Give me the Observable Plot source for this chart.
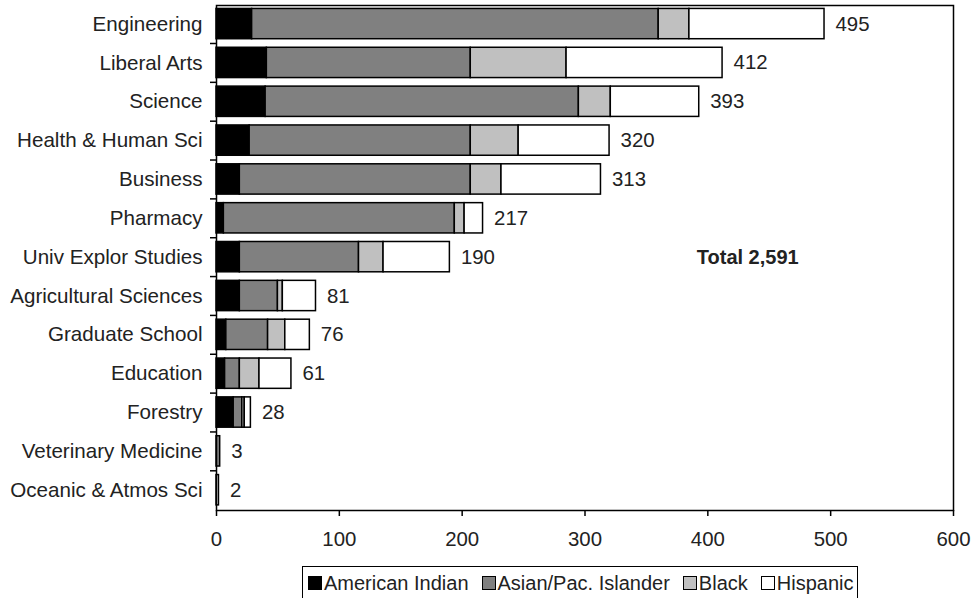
<!DOCTYPE html>
<html>
<head>
<meta charset="utf-8">
<script src="https://cdn.jsdelivr.net/npm/d3@7"></script>
<script src="https://cdn.jsdelivr.net/npm/@observablehq/plot@0.6"></script>
<style>
  html, body { margin: 0; padding: 0; background: #fff; }
  body { width: 972px; height: 598px; overflow: hidden; font-family: "Liberation Sans", Arial, sans-serif; }
  #legend {
    position: absolute; left: 302px; top: 566px;
    border: 1.5px solid #000; border-bottom: none;
    padding: 6px 4px 12px 5px;
    display: flex; align-items: center; gap: 13px;
    font-size: 20px; color: #222; line-height: 20px; white-space: nowrap;
  }
  #legend .item { display: flex; align-items: center; gap: 2px; }
  #legend .sw { width: 12px; height: 12px; border: 1px solid #000; display: inline-block; }
</style>
</head>
<body>
<div id="chart"></div>
<div id="legend"></div>
<script>
const categories = [
  "Engineering", "Liberal Arts", "Science", "Health & Human Sci", "Business",
  "Pharmacy", "Univ Explor Studies", "Agricultural Sciences", "Graduate School",
  "Education", "Forestry", "Veterinary Medicine", "Oceanic & Atmos Sci"
];
const races = ["American Indian", "Asian/Pac. Islander", "Black", "Hispanic"];
const americanIndian = [29, 41, 40, 27, 19, 6, 19, 19, 8, 7, 14, 0, 0];
const asianPacIslander = [331, 166, 255, 180, 188, 188, 97, 31, 34, 12, 7, 3, 0];
const black = [25, 78, 26, 39, 25, 8, 20, 4, 14, 16, 2, 0, 0];
const hispanic = [110, 127, 72, 74, 81, 15, 54, 27, 20, 26, 5, 0, 2];
const totals = [495, 412, 393, 320, 313, 217, 190, 81, 76, 61, 28, 3, 2];
const xTicks = [0, 100, 200, 300, 400, 500, 600];
const raceColors = ["#000000", "#808080", "#c0c0c0", "#ffffff"];
const totalNote = { label: "Total 2,591", x: 391, category: "Univ Explor Studies" };

const seriesValues = [americanIndian, asianPacIslander, black, hispanic];
const rows = categories.flatMap((c, i) =>
  races.map((r, j) => ({ category: c, race: r, value: seriesValues[j][i] }))
).filter(d => d.value > 0);
const totalRows = categories.map((c, i) => ({ category: c, total: totals[i] }));

const W = 972, H = 560, mt = 5, mb = 50, ml = 216, mr = 19;
const step = (H - mt - mb) / categories.length;
const kx = (W - ml - mr) / (xTicks[xTicks.length - 1] - xTicks[0]);

const chart = Plot.plot({
  width: W, height: H,
  marginTop: mt, marginBottom: mb, marginLeft: ml, marginRight: mr,
  style: { fontFamily: "'Liberation Sans', Arial, sans-serif", fontSize: "20px", color: "#222", background: "#fff", overflow: "visible" },
  x: { domain: [xTicks[0], xTicks[xTicks.length - 1]] },
  y: { domain: categories, paddingInner: 0.22, paddingOuter: 0.11, align: 0.4, round: false },
  color: { domain: races, range: raceColors },
  marks: [
    Plot.barX(rows, Plot.stackX({
      x: "value", y: "category", fill: "race", order: races,
      stroke: "#000", strokeWidth: 1.5
    })),
    Plot.text(totalRows, {
      x: "total", y: "category", text: d => String(d.total),
      dx: 11, textAnchor: "start", fontSize: 20.4, fill: "#222"
    }),
    Plot.text([totalNote], {
      x: "x", y: "category", text: "label", textAnchor: "start",
      fontSize: 20, fontWeight: "bold", fill: "#222"
    }),
    Plot.ruleY(categories.slice(1), {
      y: d => d, x1: -6 / kx, x2: 0, dy: -step / 2, stroke: "#000", strokeWidth: 1.5
    }),
    Plot.frame({ stroke: "#000", strokeWidth: 1.5 }),
    Plot.axisX({ ticks: xTicks, tickSize: 6, tickPadding: 15, fontSize: 20.4, label: null, stroke: "#000", strokeWidth: 1.5, tickFormat: d => String(d) }),
    Plot.axisY({ tickSize: 0, tickPadding: 14, fontSize: 20.6, label: null })
  ]
});
document.getElementById("chart").appendChild(chart);

const legend = document.getElementById("legend");
races.forEach((r, i) => {
  const item = document.createElement("span");
  item.className = "item";
  const sw = document.createElement("span");
  sw.className = "sw";
  sw.style.background = raceColors[i];
  const t = document.createElement("span");
  t.textContent = r;
  item.appendChild(sw);
  item.appendChild(t);
  legend.appendChild(item);
});
</script>
</body>
</html>
